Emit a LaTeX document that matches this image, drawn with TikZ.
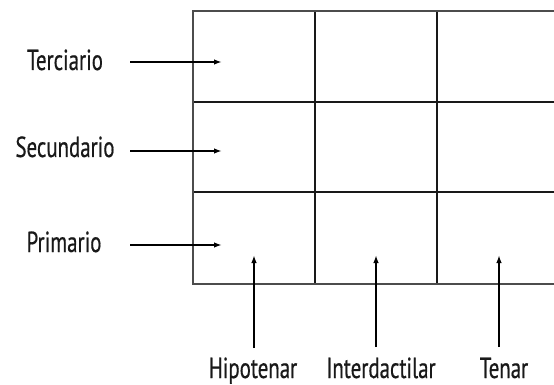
\documentclass[tikz,border=0pt]{standalone}
\usepackage{fontspec}
\setmainfont{PT Sans}[FakeStretch=0.72,FakeBold=0.5]
\usetikzlibrary{arrows.meta}
\begin{document}
\begin{tikzpicture}[x=1pt,y=-1pt,
  gridline/.style={line width=1.7pt,draw=black!90},
  border/.style={line width=2.6pt,draw=black!70},
  lbl/.style={font=\fontsize{29}{33}\selectfont,inner sep=0pt,anchor=base,text=black!90},
  arr/.style={line width=1.7pt,-{Latex[length=8pt,width=5.5pt]}}]
\useasboundingbox (0,0) rectangle (554,385);
\fill[white] (0,0) rectangle (554,385);
% grid
\draw[gridline] (193,102) -- (554,102);
\draw[gridline] (193,192) -- (554,192);
\draw[gridline] (315,11) -- (315,284);
\draw[gridline] (437,11) -- (437,284);
\draw[border] (554,11) -- (193,11) -- (193,284) -- (554,284);
% labels
\node[lbl] (ter) at (65,70) {Terciario};
\node[lbl] (sec) at (65,157) {Secundario};
\node[lbl] (pri) at (64,252) {Primario};
\node[lbl] (hip) at (253,378) {Hipotenar};
\node[lbl] (int) at (381,378) {Interdactilar};
\node[lbl] (ten) at (504,378) {Tenar};
% arrow coordinates
\coordinate (ters) at (130,62);  \coordinate (tere) at (222,62);
\coordinate (secs) at (130,151); \coordinate (sece) at (222,151);
\coordinate (pris) at (130,245); \coordinate (prie) at (222,245);
\coordinate (hips) at (254,348); \coordinate (hipe) at (254,255);
\coordinate (ints) at (376,347); \coordinate (inte) at (376,255);
\coordinate (tens) at (499,347); \coordinate (tene) at (499,255);
\draw[arr] (ters) -- (tere);
\draw[arr] (secs) -- (sece);
\draw[arr] (pris) -- (prie);
\draw[arr] (hips) -- (hipe);
\draw[arr] (ints) -- (inte);
\draw[arr] (tens) -- (tene);
\end{tikzpicture}
\end{document}
